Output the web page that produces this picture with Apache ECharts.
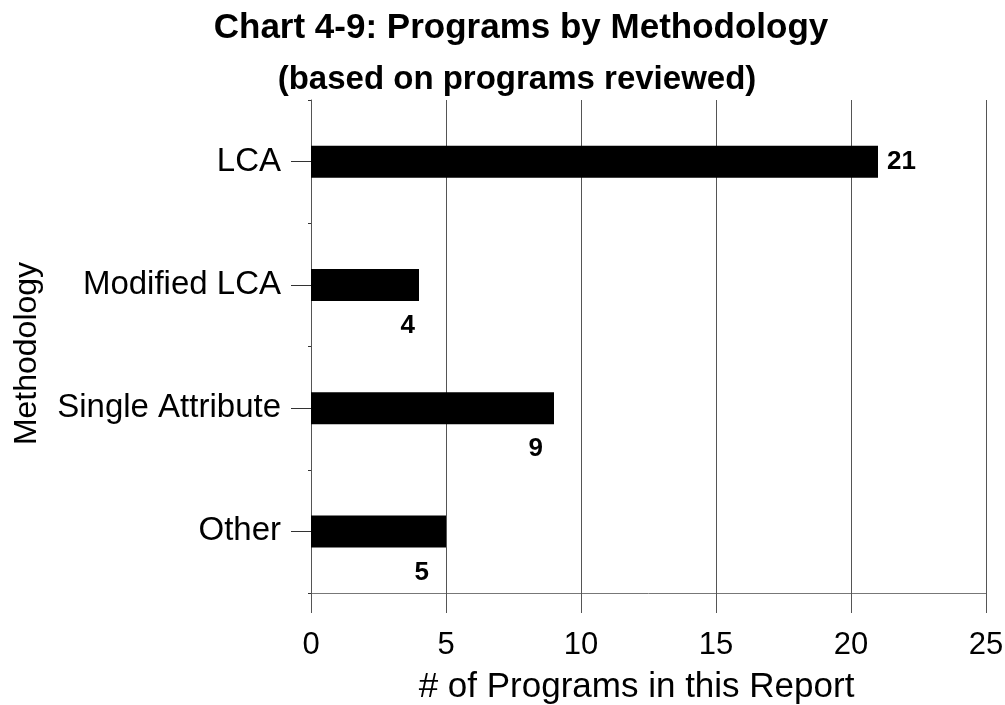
<!DOCTYPE html>
<html>
<head>
<meta charset="utf-8">
<script src="https://cdn.jsdelivr.net/npm/echarts@6/dist/echarts.min.js"></script>
<style>
  html, body { margin: 0; padding: 0; background: #fff; }
  #chart { width: 1005px; height: 705px; }
</style>
</head>
<body>
<div id="chart"></div>
<script>
// data
const categories = ['LCA', 'Modified LCA', 'Single Attribute', 'Other'];
const programCounts = [21, 4, 9, 5];
const xTicks = [0, 5, 10, 15, 20, 25];

const chart = echarts.init(document.getElementById('chart'));
const font = 'Liberation Sans, Arial, sans-serif';

// label placement: first one to the right, others tucked under the bar end
const labelShift = [null, 4, 11, 17];

chart.setOption({
  animation: false,
  title: [
    {
      text: 'Chart 4-9: Programs by Methodology',
      left: 516, top: 6, textAlign: 'center',
      textStyle: { fontFamily: font, fontSize: 35, fontWeight: 'bold', color: '#000' }
    },
    {
      text: '(based on programs reviewed)',
      left: 512, top: 58, textAlign: 'center',
      textStyle: { fontFamily: font, fontSize: 33, fontWeight: 'bold', color: '#000' }
    }
  ],
  grid: { left: 311, right: 19, top: 100, bottom: 112, containLabel: false, outerBoundsMode: 'none' },
  xAxis: {
    type: 'value',
    min: xTicks[0],
    max: xTicks[xTicks.length - 1],
    interval: 5,
    name: '# of Programs in this Report',
    nameLocation: 'middle',
    nameGap: 77,
    nameTextStyle: { fontFamily: font, fontSize: 35, color: '#000', padding: [0, 24, 0, 0] },
    axisLine: { show: true, lineStyle: { color: '#777', width: 1 } },
    axisTick: { show: true, length: 20, lineStyle: { color: '#555' } },
    axisLabel: { fontFamily: font, fontSize: 31, color: '#000', margin: 37 },
    splitLine: { show: true, lineStyle: { color: '#555', width: 1 } }
  },
  yAxis: [
    {
      type: 'category',
      data: categories,
      inverse: true,
      name: 'Methodology',
      nameLocation: 'middle',
      nameGap: 268,
      nameRotate: 90,
      nameTextStyle: { fontFamily: font, fontSize: 32, color: '#000', padding: [0, 14, 0, 0] },
      axisLine: { show: true, lineStyle: { color: '#555' } },
      axisTick: { show: true, alignWithLabel: true, length: 20, lineStyle: { color: '#333' } },
      axisLabel: { fontFamily: font, fontSize: 33, color: '#000', margin: 30 }
    },
    {
      // small marks at the band edges
      type: 'category',
      data: categories,
      inverse: true,
      position: 'left',
      axisLine: { show: false },
      axisTick: { show: true, length: 3, lineStyle: { color: '#333' } },
      axisLabel: { show: false }
    }
  ],
  series: [{
    type: 'bar',
    barWidth: 32,
    itemStyle: { color: '#000' },
    label: {
      show: true,
      fontFamily: font,
      fontSize: 26,
      fontWeight: 'bold',
      color: '#000'
    },
    data: programCounts.map((v, i) => {
      if (labelShift[i] === null) {
        return { value: v, label: { position: 'right', distance: 9 } };
      }
      return {
        value: v,
        label: {
          position: ['100%', '100%'],
          align: 'right',
          verticalAlign: 'middle',
          offset: [-labelShift[i], 25]
        }
      };
    })
  }]
});
</script>
</body>
</html>
